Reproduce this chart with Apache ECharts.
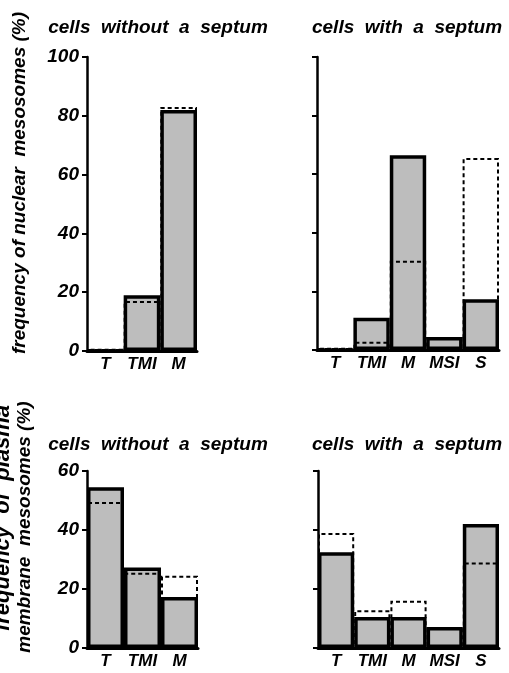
<!DOCTYPE html>
<html>
<head>
<meta charset="utf-8">
<script src="https://cdn.jsdelivr.net/npm/echarts@6/dist/echarts.min.js"></script>
<style>html,body{margin:0;padding:0;background:#fff}#c{width:509px;height:673px}</style>
</head>
<body>
<div id="c"></div>
<script>
// ---- data ----
const catsNoSeptum = ['T', 'TMI', 'M'];
const catsSeptum = ['T', 'TMI', 'M', 'MSI', 'S'];
const nuclearTicks = [0, 20, 40, 60, 80, 100];
const plasmaTicks = [0, 20, 40, 60];
// solid-outlined (filled) bars and dashed-outlined bars
const nuclearNoSeptumSolid = [0, 19, 82];
const nuclearNoSeptumDashed = [0.8, 17, 83];
const nuclearSeptumSolid = [0, 11, 66.5, 4.4, 17.3];
const nuclearSeptumDashed = [0.8, 2.8, 30.5, 4.4, 65.5];
const plasmaNoSeptumSolid = [54.5, 27.3, 17.3];
const plasmaNoSeptumDashed = [49.5, 25.5, 24.5];
const plasmaSeptumSolid = [32.5, 10.5, 10.5, 7.1, 42];
const plasmaSeptumDashed = [39, 12.8, 16, 7.1, 29];

const FONT = 'Liberation Sans';
const chart = echarts.init(document.getElementById('c'), null, {renderer: 'canvas'});

const grids = [
  {left: 87, top: 57, width: 110, height: 294},
  {left: 317, top: 57, width: 182, height: 293},
  {left: 87, top: 471, width: 111, height: 177},
  {left: 318, top: 471, width: 181, height: 177}
];
const panels = [
  {cats: catsNoSeptum, ticks: nuclearTicks, solid: nuclearNoSeptumSolid, dashed: nuclearNoSeptumDashed, labels: true},
  {cats: catsSeptum, ticks: nuclearTicks, solid: nuclearSeptumSolid, dashed: nuclearSeptumDashed, labels: false},
  {cats: catsNoSeptum, ticks: plasmaTicks, solid: plasmaNoSeptumSolid, dashed: plasmaNoSeptumDashed, labels: true},
  {cats: catsSeptum, ticks: plasmaTicks, solid: plasmaSeptumSolid, dashed: plasmaSeptumDashed, labels: false}
];

const xAxis = [], yAxis = [], series = [];
panels.forEach((p, i) => {
  xAxis.push({
    type: 'category', gridIndex: i, data: p.cats,
    axisLine: {lineStyle: {color: '#000', width: 3}},
    axisTick: {show: false},
    axisLabel: {interval: 0, color: '#000', fontFamily: FONT, fontStyle: 'italic', fontWeight: 'bold', fontSize: 17, margin: 5}
  });
  yAxis.push({
    type: 'value', gridIndex: i, min: 0, max: p.ticks[p.ticks.length - 1], interval: 20,
    splitLine: {show: false},
    axisLine: {show: true, lineStyle: {color: '#000', width: 2.5}},
    axisTick: {show: true, length: 5, lineStyle: {color: '#000', width: 2}},
    axisLabel: {show: p.labels, color: '#000', fontFamily: FONT, fontStyle: 'italic', fontWeight: 'bold', fontSize: 19, margin: 8}
  });
  series.push({
    type: 'bar', xAxisIndex: i, yAxisIndex: i, data: p.solid,
    barCategoryGap: '0%', barGap: '-100%', z: 2,
    itemStyle: {color: '#bdbdbd', borderColor: '#000', borderWidth: 3.5}
  });
  series.push({
    type: 'bar', xAxisIndex: i, yAxisIndex: i, data: p.dashed,
    barCategoryGap: '0%', barGap: '-100%', z: 3,
    itemStyle: {color: 'rgba(0,0,0,0)', borderColor: '#000', borderWidth: 2, borderType: [4, 3]}
  });
});

function txt(text, x, y, size, rot) {
  return {type: 'text', x: x, y: y, rotation: rot || 0,
    style: {text: text, fill: '#000', font: 'italic bold ' + size + 'px "' + FONT + '"', align: 'center', verticalAlign: 'middle'}};
}

chart.setOption({
  animation: false,
  grid: grids,
  xAxis: xAxis,
  yAxis: yAxis,
  series: series,
  graphic: [
    txt('cells  without  a  septum', 158, 28, 19),
    txt('cells  with  a  septum', 407, 28, 19),
    txt('cells  without  a  septum', 158, 445, 19),
    txt('cells  with  a  septum', 407, 445, 19),
    txt('frequency of nuclear  mesosomes (%)', 20, 183, 19, Math.PI / 2),
    txt('frequency  of  plasma', 3, 518, 22, Math.PI / 2),
    txt('membrane  mesosomes (%)', 25, 527, 19, Math.PI / 2)
  ]
});
</script>
</body>
</html>
